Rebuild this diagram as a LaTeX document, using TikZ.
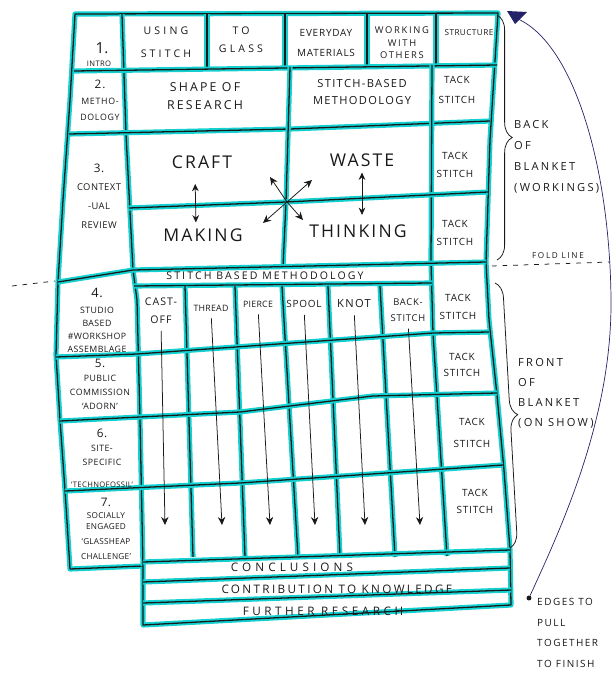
\documentclass[tikz,border=0pt]{standalone}
\usepackage{fontspec}
\setmainfont{Open Sans}
\usetikzlibrary{positioning, arrows.meta, calc, decorations.pathreplacing}
\definecolor{marker}{RGB}{20,208,208}
\definecolor{pen}{RGB}{25,25,25}
\definecolor{biro}{RGB}{35,35,105}

\begin{document}
\begin{tikzpicture}[
  x=0.03cm, y=-0.03cm,
  seam/.style={draw=pen, line width=1.1pt, line join=round, preaction={draw=marker, line width=4.4pt, line join=round}},
  ink/.style={draw=pen, line width=0.65pt},
  hand/.style n args={3}{align=center, inner sep=0pt, text=pen, font=\fontsize{#1}{#2}\selectfont\addfontfeature{LetterSpace=#3}},
  note/.style n args={3}{hand={#1}{#2}{#3}, align=left, anchor=west},
  arr/.style={ink, -{Stealth[length=2.4mm, width=2.2mm]}},
  dbl/.style={ink, {Stealth[length=2.2mm, width=2mm]}-{Stealth[length=2.2mm, width=2mm]}},
]
  \useasboundingbox (0,0) rectangle (613,675);
  % blanket outline
  \draw[seam] (75,14) -- (498,13) -- (490,140) -- (486,262) -- (489,320) -- (497,395) -- (504,470) -- (510,550)
    -- (511,605) -- (143,625) -- (143,566) -- (70,569) -- (65,490) -- (60,420) -- (56,355) -- (58,282) -- (63,200) -- (70,100) -- cycle;
  % left column
  \draw[seam] (122,14) -- (126,134) -- (133,270) -- (137,300) -- (140,420) -- (143,566);
  % row 1
  \foreach \x in {207,285,367,436} \draw[seam] (\x,14) -- (\x,67);
  \draw[seam] (74,71) -- (497,65);
  % rows 2 and 3
  \draw[seam] (69,134) -- (290,129) -- (490,121);
  \draw[seam] (290,67) -- (286,202) -- (283,267);
  \draw[seam] (432,65) -- (431,262) -- (433,333) -- (447,556);
  \draw[seam] (129,208) -- (286,202) -- (488,192);
  \draw[seam] (58,282) -- (133,270) -- (486,262);
  \draw[seam] (134,286) -- (432,283);
  % rows 4 to 7
  \foreach \t/\b in {185/193, 235/245, 282/298, 328/340, 380/395} \draw[seam] (\t,286) -- (\b,557);
  \draw[seam] (56,357) -- (137,354) -- (433,333) -- (489,332);
  \draw[seam] (60,421) -- (240,412) -- (373,396) -- (497,393);
  \draw[seam] (65,491) -- (240,483) -- (503,465);
  % closing strips
  \draw[seam] (143,562) -- (510,550);
  \draw[seam] (143,582) -- (510,568);
  \draw[seam] (143,603) -- (511,590);

  % row 1 labels
  \node[hand={13}{13}{0}]    (one)       at (102,48)  {1.};
  \node[hand={6.5}{7}{5}]    (intro)     at (99,64)   {INTRO};
  \node[hand={9}{19.5}{30}]  (using)     at (166,42)  {USING\\STITCH};
  \node[hand={9}{15.5}{30}]  (glass)     at (241,40)  {TO\\GLASS};
  \node[hand={8.5}{17}{8}]   (everyday)  at (326,43)  {EVERYDAY\\MATERIALS};
  \node[hand={8}{10.6}{18}]  (working)   at (402,43)  {WORKING\\WITH\\OTHERS};
  \node[hand={7}{8}{5}]      (structure) at (469,33)  {STRUCTURE};
  % row 2 labels
  \node[hand={7.5}{13.6}{8}] (two)       at (100,100) {{\fontsize{10}{10}\selectfont 2.}\\METHO-\\DOLOGY};
  \node[hand={10.5}{15.3}{18}] (shape)   at (205,96)  {SHAPE OF\\RESEARCH};
  \node[hand={9.5}{14.5}{12}] (stbased)  at (362,92)  {STITCH-BASED\\METHODOLOGY};
  \node[hand={8.5}{17}{8}]   (tack2)     at (457,90)  {TACK\\STITCH};
  % row 3 labels
  \node[hand={8}{16}{5}]     (three)     at (99,196)  {{\fontsize{10}{10}\selectfont 3.}\\CONTEXT\\-UAL\\REVIEW};
  \node[hand={15}{15}{12}]   (craft)     at (202,162) {CRAFT};
  \node[hand={15}{15}{12}]   (waste)     at (362,160) {WASTE};
  \node[hand={15}{15}{12}]   (making)    at (203,235) {MAKING};
  \node[hand={15}{15}{12}]   (thinking)  at (358,231) {THINKING};
  \node[hand={8.5}{15.5}{8}] (tack3a)    at (455,165) {TACK\\STITCH};
  \node[hand={8.5}{15.5}{8}] (tack3b)    at (455,233) {TACK\\STITCH};
  \node[hand={9}{9}{20}]     (strip)     at (265,276) {STITCH BASED METHODOLOGY};
  % row 4 labels
  \node[hand={7.5}{11}{5}]   (four)      at (97,320)  {{\fontsize{11}{11}\selectfont 4.}\\[3pt]STUDIO\\BASED\\\#WORKSHOP\\ASSEMBLAGE};
  \node[hand={9}{15}{10}]    (castoff)   at (161,311) {CAST-\\OFF};
  \node[hand={7.5}{8}{3}]    (thread)    at (211,308) {THREAD};
  \node[hand={7.5}{8}{3}]    (pierce)    at (258,304) {PIERCE};
  \node[hand={8.5}{9}{8}]    (spool)     at (304,304) {SPOOL};
  \node[hand={9.5}{10}{12}]  (knot)      at (354,304) {KNOT};
  \node[hand={8}{13.6}{8}]   (backst)    at (408,310) {BACK-\\STITCH};
  \node[hand={8.5}{16}{8}]   (tack4)     at (458,307) {TACK\\STITCH};
  % rows 5 to 7 labels
  \node[hand={7.5}{12}{5}]   (five)      at (100,384) {{\fontsize{10}{10}\selectfont 5.}\\PUBLIC\\COMMISSION\\`ADORN'};
  \node[hand={8.5}{14}{8}]   (tack5)     at (462,365) {TACK\\STITCH};
  \node[hand={7.5}{12}{5}]   (six)       at (102,458) {{\fontsize{10}{10}\selectfont 6.}\\SITE-\\SPECIFIC\\[7pt]{\fontsize{6.5}{7}\selectfont`TECHNOFOSSIL'}};
  \node[hand={8.5}{19.5}{8}] (tack6)     at (472,433) {TACK\\STITCH};
  \node[hand={7}{9.8}{3}]    (seven)     at (106,529) {{\fontsize{10}{10}\selectfont 7.}\\SOCIALLY\\ENGAGED\\[3pt]`GLASSHEAP\\[3pt]CHALLENGE'};
  \node[hand={8.5}{14.5}{8}] (tack7)     at (475,501) {TACK\\STITCH};
  % closing strip labels
  \node[hand={10}{10}{35}]   (concl)     at (292,567) {CONCLUSIONS};
  \node[hand={10}{10}{20}]   (contrib)   at (337,589) {CONTRIBUTION TO KNOWLEDGE};
  \node[hand={10}{10}{30}]   (further)   at (323,611) {FURTHER RESEARCH};

  % craft / waste / making / thinking arrows
  \draw[dbl, shorten <=13pt, shorten >=5pt] ([xshift=-6pt]craft.south) -- ([xshift=-6pt]making.north);
  \draw[dbl, shorten <=5pt, shorten >=8pt] (waste.south) -- (waste.south |- thinking.north);
  \coordinate (hub) at (287,202);
  \coordinate (hub-nw) at (270,177);
  \coordinate (hub-ne) at (312,180);
  \coordinate (hub-sw) at (263,223);
  \coordinate (hub-se) at (303,220);
  \foreach \c in {nw, ne, sw, se} \draw[arr] (hub) -- (hub-\c);
  % process arrows
  \foreach \n/\x in {castoff/165, thread/222, pierce/270, spool/315, knot/365, backst/420} {
    \coordinate (\n-tip) at (\x,525);
    \draw[arr, shorten <=6pt] (\n.south) -- (\n-tip);
  }

  % fold line
  \draw[ink, dash pattern=on 4pt off 5pt] (12,286) -- (55,281);
  \draw[ink, dash pattern=on 4pt off 5pt] (492,266) -- (610,262);
  \node[hand={7}{7}{20}]     (fold)      at (558,256) {FOLD LINE};
  % braces and notes
  \draw[ink, decorate, decoration={brace, amplitude=13pt}] (497,15) -- (497,260);
  \draw[ink, decorate, decoration={brace, amplitude=13pt}] (495,283) -- (510,548);
  \node[note={9.5}{17.9}{20}] (back)     at (514,157) {BACK\\OF\\BLANKET\\(WORKINGS)};
  \node[note={9.5}{17}{20}]   (front)    at (518,393) {FRONT\\OF\\BLANKET\\(ON SHOW)};
  % pull thread
  \fill[biro] (507,11) -- (527,12) -- (515,24) -- cycle;
  \coordinate (knotpoint) at (518,19);
  \node[circle, fill=pen, inner sep=1.5pt] (dot) at (529,598) {};
  \draw[biro, line width=0.6pt] (knotpoint) .. controls (575,45) and (610,170) .. (611,300)
    .. controls (612,420) and (560,530) .. (dot);
  \node[note={8.5}{17.5}{15}] (edges)    at (537,633) {EDGES TO\\PULL\\TOGETHER\\TO FINISH};
\end{tikzpicture}
\end{document}
